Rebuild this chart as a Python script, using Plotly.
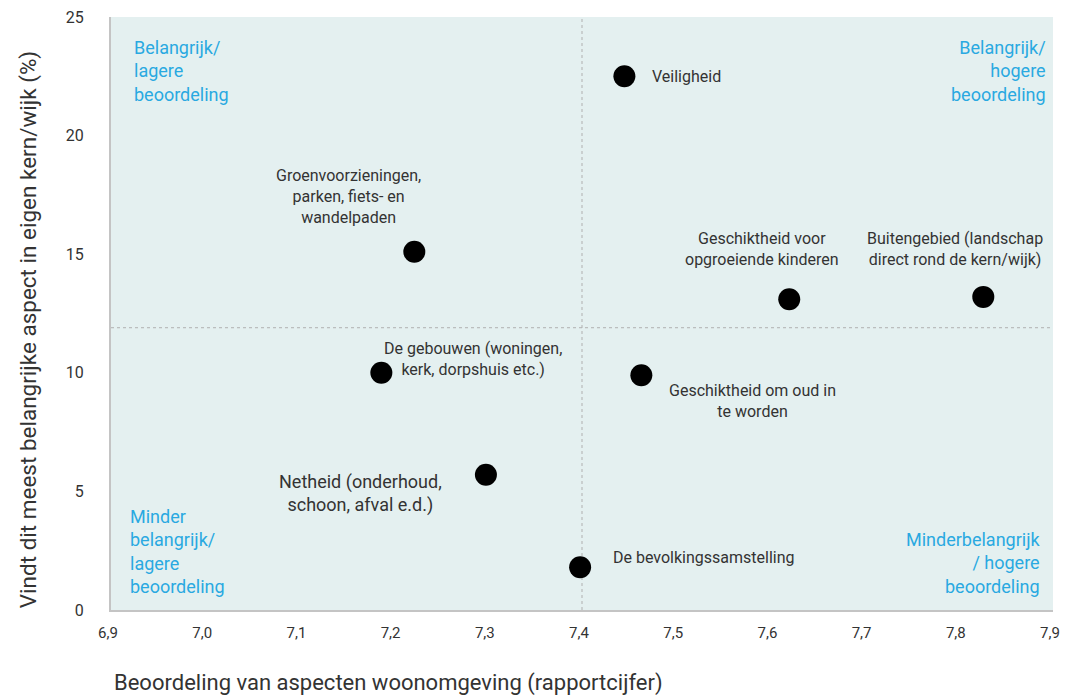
import plotly.graph_objects as go

# aspecten woonomgeving
aspecten = [
    "Veiligheid",
    "Groenvoorzieningen,<br>parken, fiets- en<br>wandelpaden",
    "Geschiktheid voor<br>opgroeiende kinderen",
    "Buitengebied (landschap<br>direct rond de kern/wijk)",
    "De gebouwen (woningen,<br>kerk, dorpshuis etc.)",
    "Geschiktheid om oud in<br>te worden",
    "Netheid (onderhoud,<br>schoon, afval e.d.)",
    "De bevolkingssamstelling",
]
rapportcijfer = [7.445, 7.222, 7.62, 7.826, 7.187, 7.463, 7.298, 7.398]
belangrijk_pct = [22.5, 15.1, 13.1, 13.2, 10.0, 9.9, 5.7, 1.8]

x_ticks = [6.9, 7.0, 7.1, 7.2, 7.3, 7.4, 7.5, 7.6, 7.7, 7.8, 7.9]
y_ticks = [0, 5, 10, 15, 20, 25]

gem_cijfer = 7.4
gem_pct = 11.9

# label offsets (px) and anchors per point
label_dx = [26, -66, -27, -28, 92, 111, -125, 31]
label_dy = [0, 55, 50, 48, 14, -26, -19, 10]
label_anchor = ["left", "center", "center", "center", "center", "center", "center", "left"]
label_size = [16, 16, 16, 16, 16, 16, 18, 16]

blue = "#29a9e1"
txt = "#333333"

fig = go.Figure()
fig.add_trace(go.Scatter(
    x=rapportcijfer, y=belangrijk_pct, mode="markers",
    marker=dict(size=22, color="black"),
    hoverinfo="skip", showlegend=False, cliponaxis=False,
))

for i, a in enumerate(aspecten):
    fig.add_annotation(
        x=rapportcijfer[i], y=belangrijk_pct[i], text=a, showarrow=False,
        xshift=label_dx[i], yshift=label_dy[i], xanchor=label_anchor[i], yanchor="middle",
        align="center", font=dict(size=label_size[i], color=txt),
    )

# dotted average lines
fig.add_shape(type="line", x0=gem_cijfer, x1=gem_cijfer, y0=0, y1=25, layer="below",
              line=dict(color="#b0b0b0", width=1, dash="dot"))
fig.add_shape(type="line", x0=6.9, x1=7.9, y0=gem_pct, y1=gem_pct, layer="below",
              line=dict(color="#b0b0b0", width=1, dash="dot"))

# quadrant labels
fig.add_annotation(xref="paper", yref="paper", x=0.022, y=0.97, xanchor="left", yanchor="top",
                   text="Belangrijk/<br>lagere<br>beoordeling", showarrow=False, align="left",
                   font=dict(size=18, color=blue))
fig.add_annotation(xref="paper", yref="paper", x=0.995, y=0.97, xanchor="right", yanchor="top",
                   text="Belangrijk/<br>hogere<br>beoordeling", showarrow=False, align="right",
                   font=dict(size=18, color=blue))
fig.add_annotation(xref="paper", yref="paper", x=0.018, y=0.018, xanchor="left", yanchor="bottom",
                   text="Minder<br>belangrijk/<br>lagere<br>beoordeling", showarrow=False, align="left",
                   font=dict(size=18, color=blue))
fig.add_annotation(xref="paper", yref="paper", x=0.988, y=0.018, xanchor="right", yanchor="bottom",
                   text="Minderbelangrijk<br>/ hogere<br>beoordeling", showarrow=False, align="right",
                   font=dict(size=18, color=blue))

# axis titles
fig.add_annotation(xref="paper", yref="paper", x=0.295, y=-0.123, xanchor="center", yanchor="middle",
                   text="Beoordeling van aspecten woonomgeving (rapportcijfer)", showarrow=False,
                   font=dict(size=22, color=txt))
fig.add_annotation(xref="paper", yref="paper", x=-0.088, y=0.472, xanchor="center", yanchor="middle",
                   textangle=-90, text="Vindt dit meest belangrijke aspect in eigen kern/wijk (%)",
                   showarrow=False, font=dict(size=22.5, color=txt))

# page has an 8px body margin, so the figure is drawn 8px smaller
fig.update_layout(
    width=1060, height=688,
    margin=dict(l=103, r=15, t=9, b=86, autoexpand=False),
    paper_bgcolor="white", plot_bgcolor="#e4f0f0",
    font=dict(family="Roboto, Noto Sans, sans-serif", color=txt),
    separators=",.",
    xaxis=dict(
        range=[6.9, 7.9], tickvals=x_ticks, tickformat=".1f", automargin=False,
        showgrid=False, zeroline=False, showline=True, linecolor="#c4c4c4", linewidth=2,
        ticks="", tickfont=dict(size=15, color=txt), ticklabelstandoff=8,
        ticklabelshift=-3, ticklabeloverflow="allow",
    ),
    yaxis=dict(
        range=[0, 25], tickvals=y_ticks, automargin=False,
        showgrid=False, zeroline=False, showline=True, linecolor="#c4c4c4", linewidth=2,
        ticks="", tickfont=dict(size=16, color=txt), ticklabelstandoff=22,
        ticklabeloverflow="allow",
    ),
)

fig.write_html("out.html")
